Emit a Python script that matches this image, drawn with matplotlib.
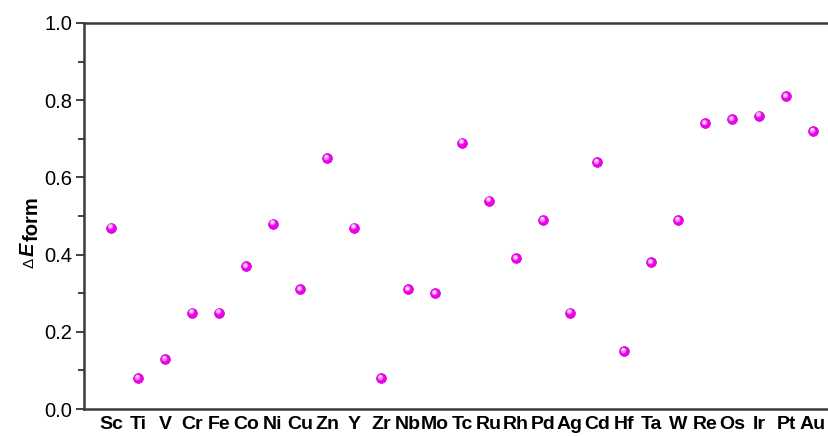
import matplotlib
matplotlib.use("Agg")
import matplotlib.pyplot as plt
import matplotlib.transforms as mtransforms
import numpy as np

elements = ["Sc", "Ti", "V", "Cr", "Fe", "Co", "Ni", "Cu", "Zn", "Y", "Zr", "Nb",
            "Mo", "Tc", "Ru", "Rh", "Pd", "Ag", "Cd", "Hf", "Ta", "W", "Re", "Os",
            "Ir", "Pt", "Au"]
dE_form = [0.47, 0.08, 0.13, 0.25, 0.25, 0.37, 0.48, 0.31, 0.65, 0.47, 0.08, 0.31,
           0.30, 0.69, 0.54, 0.39, 0.49, 0.25, 0.64, 0.15, 0.38, 0.49, 0.74, 0.75,
           0.76, 0.81, 0.72]
yticks = [0.0, 0.2, 0.4, 0.6, 0.8, 1.0]

plt.rcParams["font.family"] = "Liberation Sans"

W, H = 829, 436
fig = plt.figure(figsize=(W / 100, H / 100), dpi=100)
ax = fig.add_axes([84 / W, 27 / H, 1 - 84 / W, 386 / H])

x = np.arange(1, len(elements) + 1)
y = np.array(dE_form)

# shaded "sphere" markers: body, lighter cap, small specular spot
ax.scatter(x, y, s=50, color="#f000f0", edgecolors="#c800c8", linewidths=0.5, zorder=3)
hl = mtransforms.offset_copy(ax.transData, fig=fig, x=-0.8, y=0.9, units="points")
ax.scatter(x, y, s=16, color="#ff80ff", linewidths=0, transform=hl, zorder=4)
hl2 = mtransforms.offset_copy(ax.transData, fig=fig, x=-1.0, y=1.2, units="points")
ax.scatter(x, y, s=4, color="#fff0ff", linewidths=0, transform=hl2, zorder=5)

ax.set_xlim(0, (W - 84) / 27)
ax.set_ylim(0, 1.0)
ax.set_xticks(x)
ax.set_xticklabels(elements, fontsize=14, fontweight="bold")
ax.tick_params(axis="x", length=0, pad=5)
ax.set_yticks(yticks)
ax.set_yticks(np.arange(0.1, 1.0, 0.2), minor=True)
ax.set_yticklabels([f"{v:.1f}" for v in yticks], fontsize=14.5)
ax.tick_params(axis="y", which="major", direction="out", length=5.5, width=1.3,
               color="#333333", pad=3)
ax.tick_params(axis="y", which="minor", direction="out", length=4, width=1.3,
               color="#333333")

for side in ("left", "top", "bottom"):
    ax.spines[side].set_linewidth(1.8)
    ax.spines[side].set_color("#3a3a3a")
ax.spines["right"].set_visible(False)

# y-axis label: small Delta, bold italic E, bold "form" set slightly low
def px(xp, yp):
    return xp / W, 1 - yp / H

fig.text(*px(34, 268), "\u0394", fontsize=11, rotation=90,
         rotation_mode="anchor", ha="left", va="baseline")
fig.text(*px(34, 256), "E", fontsize=14.5, fontweight="bold", fontstyle="italic",
         rotation=90, rotation_mode="anchor", ha="left", va="baseline")
fig.text(*px(38, 241), "form", fontsize=14.5, fontweight="bold", rotation=90,
         rotation_mode="anchor", ha="left", va="baseline")

fig.savefig("out.png", dpi=100)
